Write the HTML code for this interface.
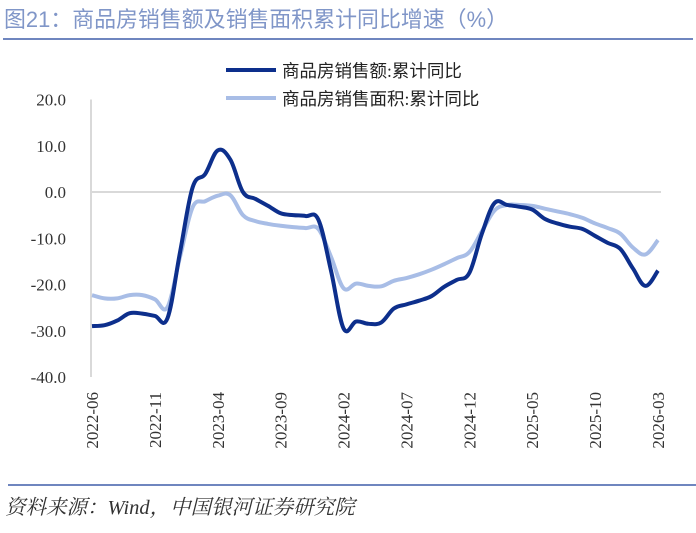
<!DOCTYPE html>
<html><head><meta charset="utf-8"><style>
body{margin:0;background:#fff;width:696px;height:528px;overflow:hidden;font-family:"Liberation Serif","Noto Serif CJK SC",serif}
</style></head><body>
<svg width="696" height="528">
<text x="4" y="27" font-size="22" fill="#8096c8" font-family="Liberation Sans, Noto Sans CJK SC, sans-serif" textLength="504" lengthAdjust="spacingAndGlyphs">图21：商品房销售额及销售面积累计同比增速（%）</text>
<line x1="3" y1="39" x2="693" y2="39" stroke="#6f86bf" stroke-width="2"/>
<g>
<line x1="226" y1="70" x2="276" y2="70" stroke="#0d2f8c" stroke-width="4"/>
<text x="282" y="77" font-size="17.5" fill="#222" font-family="Liberation Serif, Noto Sans CJK SC, sans-serif">商品房销售额:累计同比</text>
<line x1="226" y1="98" x2="276" y2="98" stroke="#a8bde6" stroke-width="4"/>
<text x="282" y="105" font-size="17.5" fill="#222" font-family="Liberation Serif, Noto Sans CJK SC, sans-serif">商品房销售面积:累计同比</text>
</g>
<g id="axes"></g>
<g id="plot"></g>
<line x1="8" y1="485" x2="696" y2="485" stroke="#6f86bf" stroke-width="2"/>
<text x="5" y="514" font-size="20.5" fill="#333" font-style="italic" font-family="Liberation Serif, Noto Serif CJK SC, serif">资料来源：Wind，中国银河证券研究院</text>
</svg>
<script>
const yTicks=[20,10,0,-10,-20,-30,-40];
const xLabels=["2022-06","2022-11","2023-04","2023-09","2024-02","2024-07","2024-12","2025-05","2025-10","2026-03"];
const salesAmount=[-29,-28.8,-27.8,-26.2,-26.3,-26.8,-27.3,-13,1.0,3.9,9.0,7.0,0,-1.5,-3,-4.6,-5.0,-5.2,-6.0,-17,-29.5,-28,-28.5,-28.2,-25.2,-24.3,-23.5,-22.5,-20.5,-19.0,-17.5,-9,-2.4,-2.8,-3.2,-3.8,-5.8,-6.8,-7.5,-8.0,-9.5,-11.0,-12.3,-16.5,-20.3,-17.0];
const salesArea=[-22.3,-23.0,-23.0,-22.3,-22.3,-23.2,-24.9,-14,-3.3,-2.0,-0.8,-0.7,-5,-6.3,-6.9,-7.3,-7.6,-7.8,-8.0,-14,-20.8,-19.8,-20.3,-20.4,-19.2,-18.6,-17.8,-16.8,-15.6,-14.3,-13,-8.5,-4.0,-2.8,-2.8,-3.0,-3.6,-4.2,-4.8,-5.6,-6.8,-7.8,-9.0,-12.0,-13.5,-10.4];
const NS="http://www.w3.org/2000/svg";
const x0=92,x1=658,n=salesAmount.length;
const xs=i=>x0+(x1-x0)*i/(n-1);
const ys=v=>192-(v)*(185/40);
const axes=document.getElementById('axes'),plot=document.getElementById('plot');
function mk(t,a,p){const e=document.createElementNS(NS,t);for(const k in a)e.setAttribute(k,a[k]);p.appendChild(e);return e;}
yTicks.forEach(v=>{
  const t=mk('text',{x:66,y:ys(v)+6,'font-size':17,fill:'#333','text-anchor':'end'},axes);
  t.textContent=v.toFixed(1);
  
  
});
const zl=mk('line',{x1:91,y1:ys(0),x2:661,y2:ys(0),stroke:'#d9d9d9','stroke-width':2},axes);


const ya=mk('line',{x1:91,y1:ys(20),x2:91,y2:ys(-40),stroke:'#d9d9d9','stroke-width':2},axes);


xLabels.forEach((l,k)=>{
  const x=xs(k*5);
  const t=mk('text',{x:0,y:0,'font-size':17,fill:'#333','text-anchor':'end',transform:`translate(${x+6},392) rotate(-90)`},axes);
  t.textContent=l;
  
  
});
function path(vals){
  const p=vals.map((v,i)=>[xs(i),ys(v)]);
  let d=`M${p[0][0]},${p[0][1]}`;
  for(let i=0;i<p.length-1;i++){
    const a=p[Math.max(i-1,0)],b=p[i],c=p[i+1],e=p[Math.min(i+2,p.length-1)];
    const t=0.18;
    d+=` C${b[0]+(c[0]-a[0])*t},${b[1]+(c[1]-a[1])*t} ${c[0]-(e[0]-b[0])*t},${c[1]-(e[1]-b[1])*t} ${c[0]},${c[1]}`;
  }
  return d;
}
const la=mk('path',{d:path(salesArea),fill:'none',stroke:'#a8bde6','stroke-width':4,'stroke-linejoin':'round'},plot);


const lb=mk('path',{d:path(salesAmount),fill:'none',stroke:'#0d2f8c','stroke-width':4,'stroke-linejoin':'round'},plot);


</script>
</body></html>
